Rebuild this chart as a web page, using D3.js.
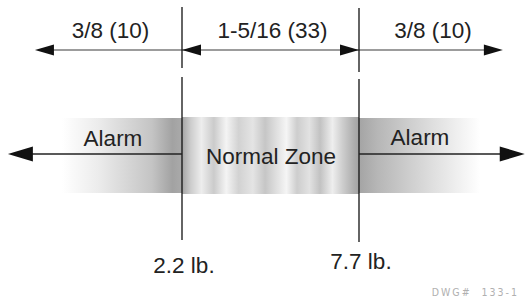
<!DOCTYPE html>
<html><head><meta charset="utf-8">
<script src="https://cdn.jsdelivr.net/npm/d3@7"></script>
<style>html,body{margin:0;padding:0;background:#fff;}</style>
</head><body>
<svg id="c" width="527" height="308"></svg>
<script>
// ---- data ----
const thresholds = [2.2, 7.7];                 // lb, the two switch points
const thresholdLabels = ["2.2 lb.", "7.7 lb."];
const dimExtent = [-2.37, 12.17];             // outer ends of dimension line (lb scale)
const dimLabels = ["3/8 (10)", "1-5/16 (33)", "3/8 (10)"];
const zoneLabels = ["Alarm", "Normal Zone", "Alarm"];
const bandExtent = [-1.53, 11.46];            // where alarm shading fades out
const arrowExtent = [-3.21, 12.85];           // big arrow tips
const drawingNo = "DWG#  133-1";

const svg = d3.select("#c");
const x = d3.scaleLinear().domain(thresholds).range([182, 359]);
const font = "Liberation Sans, Arial, sans-serif";
const FS = 22.5;
const defs = svg.append("defs");

// gradients
const gL = defs.append("linearGradient").attr("id","gL");
[[0,"#ffffff"],[0.3,"#ececec"],[0.75,"#c4c4c4"],[0.92,"#a2a2a2"],[1,"#aaaaaa"]]
  .forEach(([o,c])=>gL.append("stop").attr("offset",o).attr("stop-color",c));
const gR = defs.append("linearGradient").attr("id","gR");
[[0,"#a4a4a4"],[0.15,"#b6b6b6"],[0.6,"#dedede"],[1,"#ffffff"]]
  .forEach(([o,c])=>gR.append("stop").attr("offset",o).attr("stop-color",c));
const gN = defs.append("linearGradient").attr("id","gN");
[[0,"#a4a4a4"],[0.05,"#cdcdcd"],[0.11,"#ededed"],[0.18,"#cbcbcb"],[0.25,"#f4f4f4"],
 [0.32,"#d2d2d2"],[0.4,"#e4e4e4"],[0.47,"#c6c6c6"],[0.53,"#dedede"],[0.59,"#f5f5f5"],
 [0.65,"#cdcdcd"],[0.72,"#e2e2e2"],[0.78,"#c2c2c2"],[0.85,"#eeeeee"],[0.91,"#cccccc"],
 [0.97,"#aeaeae"],[1,"#a2a2a2"]]
  .forEach(([o,c])=>gN.append("stop").attr("offset",o).attr("stop-color",c));

// bands
const bands = [
  {x0: bandExtent[0], x1: thresholds[0], fill: "url(#gL)", y0: 118, y1: 193},
  {x0: thresholds[0], x1: thresholds[1], fill: "url(#gN)", y0: 117, y1: 194},
  {x0: thresholds[1], x1: bandExtent[1], fill: "url(#gR)", y0: 118, y1: 193}
];
svg.selectAll("rect.band").data(bands).join("rect").attr("class","band")
  .attr("x", d=>x(d.x0)).attr("width", d=>x(d.x1)-x(d.x0))
  .attr("y", d=>d.y0).attr("height", d=>d.y1-d.y0).attr("fill", d=>d.fill);

// arrowhead helper
function head(tipX, y, dir, len, half, fill){
  svg.append("path")
    .attr("d", `M${tipX},${y} L${tipX - dir*len},${y-half} L${tipX - dir*len},${y+half} Z`)
    .attr("fill", fill);
}

// dimension line
const dimY = 50;
const dimPts = [dimExtent[0], thresholds[0], thresholds[1], dimExtent[1]];
svg.append("line").attr("x1", x(dimPts[0])+5).attr("x2", x(dimPts[3])-5)
  .attr("y1", dimY).attr("y2", dimY).attr("stroke","#3a3a3a").attr("stroke-width",1.1);
head(x(dimPts[0]), dimY, -1, 19, 5.5, "#111");
head(x(dimPts[1]), dimY, -1, 19, 5.5, "#111");
head(x(dimPts[2]), dimY, 1, 19, 5.5, "#111");
head(x(dimPts[3]), dimY, 1, 19, 5.5, "#111");

// dimension labels
svg.selectAll("text.dim").data(dimLabels).join("text").attr("class","dim")
  .attr("x", (d,i)=> (x(dimPts[i])+x(dimPts[i+1]))/2 + 2)
  .attr("y", 38).attr("text-anchor","middle")
  .attr("font-family", font).attr("font-size", FS).attr("fill","#222")
  .text(d=>d);

// vertical threshold lines
const vSegs = [
  [[7,68],[77,240]],
  [[8,72],[79,242]]
];
thresholds.forEach((t,i)=>{
  vSegs[i].forEach(([a,b])=>{
    svg.append("line").attr("x1",x(t)).attr("x2",x(t)).attr("y1",a).attr("y2",b)
      .attr("stroke","#111").attr("stroke-width",1.3);
  });
});

// big alarm arrows
const arY = 154;
svg.append("line").attr("x1", x(arrowExtent[0])+10).attr("x2", x(thresholds[0]))
  .attr("y1",arY).attr("y2",arY).attr("stroke","#222").attr("stroke-width",1.6);
svg.append("line").attr("x1", x(thresholds[1])).attr("x2", x(arrowExtent[1])-10)
  .attr("y1",arY).attr("y2",arY).attr("stroke","#222").attr("stroke-width",1.6);
head(x(arrowExtent[0]), arY, -1, 25, 7.5, "#111");
head(x(arrowExtent[1]), arY, 1, 25, 7.5, "#111");

// zone labels
const zonePos = [
  {cx: 113, y: 146},
  {cx: 271, y: 164},
  {cx: 420, y: 145}
];
svg.selectAll("text.zone").data(zoneLabels).join("text").attr("class","zone")
  .attr("x",(d,i)=>zonePos[i].cx).attr("y",(d,i)=>zonePos[i].y)
  .attr("text-anchor","middle").attr("font-family",font).attr("font-size",FS)
  .attr("fill","#222").text(d=>d);

// threshold labels
const tY = [273, 269];
svg.selectAll("text.th").data(thresholdLabels).join("text").attr("class","th")
  .attr("x",(d,i)=>x(thresholds[i])+2).attr("y",(d,i)=>tY[i])
  .attr("text-anchor","middle").attr("font-family",font).attr("font-size",FS)
  .attr("fill","#222").text(d=>d);

// drawing number
svg.append("text").attr("x",519).attr("y",296).attr("text-anchor","end")
  .attr("font-family","DejaVu Sans Condensed, DejaVu Sans, sans-serif")
  .attr("font-size",10.5).attr("letter-spacing",2).attr("fill","#b0b0b0")
  .style("white-space","pre").text(drawingNo);
</script>
</body></html>
